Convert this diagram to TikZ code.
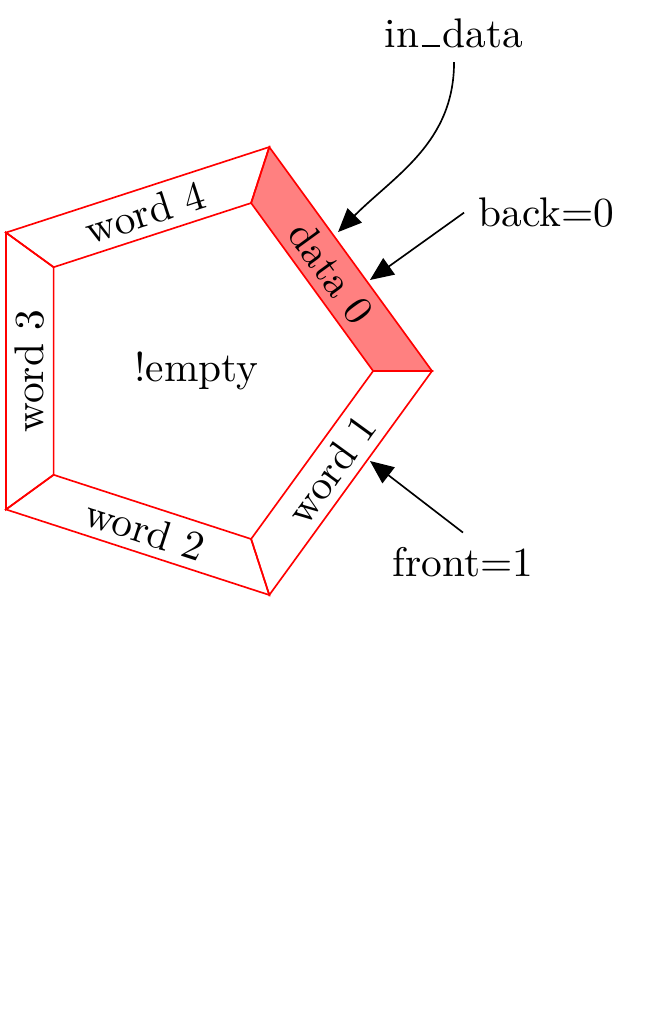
\documentclass[tikz,border=0pt]{standalone}
\usepackage{tikz}
\usetikzlibrary{arrows.meta,positioning}

\begin{document}
\begin{tikzpicture}[
  seg/.style={draw=red},
  full/.style={draw=red,fill=red!50},
  slot/.style={inner sep=0pt},
  ptr/.style={-{Triangle[length=2mm,width=1.7mm]},black}
]
\useasboundingbox (-1.669,-5.537) rectangle (4.038,3.151);
% outer and inner corners of the ring
\coordinate (o0) at (0:2);
\coordinate (o1) at (72:2);
\coordinate (o2) at (144:2);
\coordinate (o3) at (216:2);
\coordinate (o4) at (288:2);
\coordinate (i0) at (0:1.5);
\coordinate (i1) at (72:1.5);
\coordinate (i2) at (144:1.5);
\coordinate (i3) at (216:1.5);
\coordinate (i4) at (288:1.5);
% slots
\draw[full] (o0)--(o1)--(i1)--(i0)--cycle;
\draw[seg] (o4)--(o0)--(i0)--(i4)--cycle;
\draw[seg] (o3)--(o4)--(i4)--(i3)--cycle;
\draw[seg] (o2)--(o3)--(i3)--(i2)--cycle;
\draw[seg] (o1)--(o2)--(i2)--(i1)--cycle;
\node[slot,rotate=-54] (data0) at (36:1.416) {data 0};
\node[slot,rotate=54] (word1) at (-36:1.416) {word 1};
\node[slot,rotate=-18] (word2) at (-108:1.416) {word 2};
\node[slot,rotate=90] (word3) at (180:1.416) {word 3};
\node[slot,rotate=18] (word4) at (108:1.416) {word 4};
\node (state) at (0,0) {!empty};
% pointers
\node (indata) at (2.187,2.871) {in\kern.06em\vbox{\hrule width.45em height.4pt}\kern.06em data};
\node[anchor=west] (back) at (2.272,1.345) {back=0};
\node (front) at (2.263,-1.622) {front=1};
\coordinate (intip) at (1.202,1.180);
\coordinate (backtip) at (1.473,0.773);
\coordinate (fronttip) at (1.473,-0.764);
\draw[ptr] (indata.south) to[out=-90,in=45] (intip);
\draw[ptr] (back.west) -- (backtip);
\draw[ptr] (front.north) -- (fronttip);
\end{tikzpicture}
\end{document}
